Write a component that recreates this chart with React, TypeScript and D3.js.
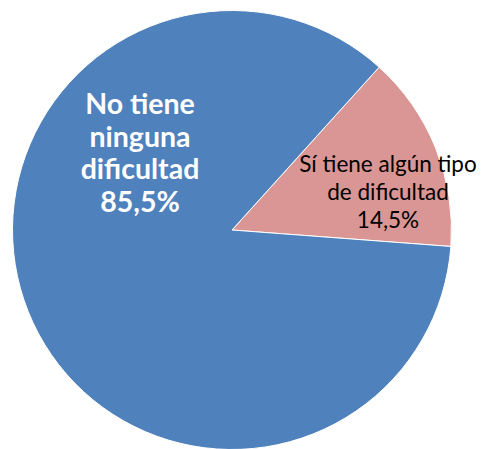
import React from "react";
import * as d3 from "d3";

const categories = ["Sí tiene algún tipo de dificultad", "No tiene ninguna dificultad"];
const values = [14.5, 85.5];
const colors = ["#D99694", "#4F81BD"];
const labelLines = [
  ["Sí tiene algún tipo", "de dificultad", "14,5%"],
  ["No tiene", "ninguna", "dificultad", "85,5%"],
];

export default function App() {
  const W = 483, H = 449;
  const cx = 232, cy = 230, r = 219.5;
  const start = (42.1 * Math.PI) / 180;
  const pie = d3.pie<number>().sort(null).value((d) => d).startAngle(start).endAngle(start + 2 * Math.PI);
  const arcs = pie(values);
  const arc = d3.arc<d3.PieArcDatum<number>>().innerRadius(0).outerRadius(r);
  const labelPos = [
    { x: 388 - cx, y: 172 - cy, size: 22.5, weight: 400, fill: "#000", lh: 28 },
    { x: 140 - cx, y: 114 - cy, size: 28.5, weight: 700, fill: "#fff", lh: 32.5 },
  ];
  return (
    <svg width={W} height={H} style={{ position: "absolute", left: 0, top: 0 }}>
      <g transform={`translate(${cx},${cy})`}>
        {arcs.map((a, i) => (
          <path key={categories[i]} d={arc(a) || ""} fill={colors[i]} stroke="#fff" strokeWidth={1} />
        ))}
        {labelLines.map((lines, i) => (
          <text
            key={i}
            textAnchor="middle"
            fontFamily="Lato, 'Open Sans', sans-serif"
            fontSize={labelPos[i].size}
            fontWeight={labelPos[i].weight}
            fill={labelPos[i].fill}
          >
            {lines.map((l, j) => (
              <tspan key={j} x={labelPos[i].x} y={labelPos[i].y + j * labelPos[i].lh}>
                {l}
              </tspan>
            ))}
          </text>
        ))}
      </g>
    </svg>
  );
}
